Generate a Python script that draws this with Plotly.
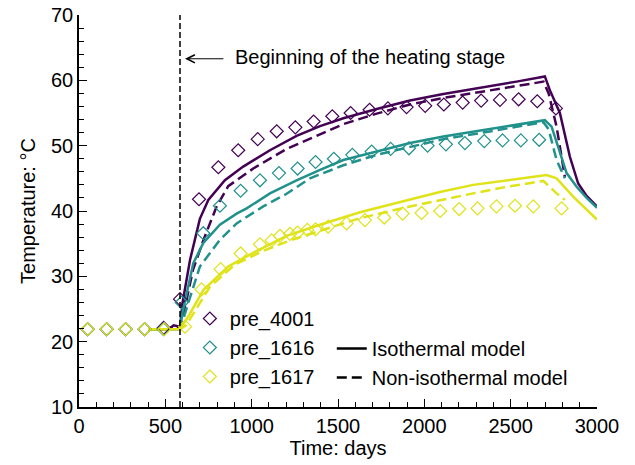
import plotly.graph_objects as go

# ---------------- data ----------------
series_names = ["pre_4001", "pre_1616", "pre_1617"]
colors = ["#440154", "#21918c", "#dfe318"]

# measured values (open diamonds)
obs_4001_x = [50, 160, 270, 380, 490, 585, 695, 807, 922, 1035, 1145, 1253, 1359, 1467, 1573, 1683,
              1789, 1897, 2005, 2113, 2222, 2329, 2438, 2546, 2654, 2762]
obs_4001_y = [21.9, 21.9, 21.9, 21.9, 22.1, 26.5, 41.8, 46.7, 49.3, 51.0, 52.2, 52.8, 53.7, 54.5, 55.0, 55.5,
              55.7, 55.9, 56.1, 56.3, 56.6, 56.9, 57.0, 57.1, 56.8, 55.7]

obs_1616_x = [50, 160, 270, 380, 490, 595, 720, 816, 936, 1048, 1158, 1266, 1370, 1476, 1583, 1695,
              1805, 1911, 2019, 2125, 2235, 2347, 2453, 2559, 2665]
obs_1616_y = [21.9, 21.9, 21.9, 21.9, 21.9, 26.0, 36.6, 40.8, 43.1, 44.7, 45.8, 46.5, 47.5, 48.0, 48.6, 49.1,
              49.5, 49.6, 50.0, 50.2, 50.4, 50.7, 50.8, 50.8, 50.9]

obs_1617_x = [50, 160, 270, 380, 494, 614, 710, 820, 936, 1048, 1116, 1164, 1222, 1266, 1322, 1370, 1443,
              1550, 1656, 1768, 1874, 1984, 2092, 2202, 2308, 2418, 2525, 2631, 2795]
obs_1617_y = [21.9, 21.9, 21.9, 21.9, 21.9, 22.3, 28.0, 31.1, 33.5, 34.9, 35.5, 36.2, 36.5, 36.7, 37.1, 37.2, 37.6,
              38.1, 38.6, 39.0, 39.6, 39.7, 40.0, 40.3, 40.4, 40.7, 40.8, 40.7, 40.4]

# isothermal model (solid lines)
iso_4001_x = [400, 520, 548, 585, 600, 643, 700, 749, 845, 951, 1106, 1260, 1396, 1531, 1724, 1917, 2110,
              2341, 2534, 2698, 2727, 2785, 2843, 2891, 2940, 3000]
iso_4001_y = [21.9, 21.9, 22.5, 22.3, 26.0, 32.5, 38.8, 41.7, 44.7, 46.8, 49.3, 51.5, 53.0, 54.2, 55.6, 56.9, 57.9,
              58.9, 59.8, 60.6, 58.5, 55.0, 48.3, 44.2, 42.3, 40.7]

iso_1616_x = [400, 585, 600, 662, 720, 816, 913, 971, 1106, 1260, 1396, 1531, 1724, 1917, 2110, 2341, 2534,
              2698, 2737, 2785, 2824, 2882, 2940, 3000]
iso_1616_y = [21.9, 21.9, 24.5, 32.0, 35.1, 37.9, 39.6, 40.4, 42.7, 44.7, 46.3, 47.8, 49.1, 50.4, 51.4, 52.4, 53.2,
              53.9, 52.9, 48.8, 45.8, 43.7, 42.0, 40.5]

iso_1617_x = [400, 585, 643, 720, 864, 1009, 1202, 1396, 1627, 1917, 2090, 2283, 2476, 2708, 2766, 2862, 3000]
iso_1617_y = [21.9, 21.9, 24.3, 27.9, 31.5, 33.6, 36.2, 37.9, 39.8, 41.8, 42.9, 44.0, 44.7, 45.5, 45.0, 42.2, 38.7]

# non-isothermal model (dashed lines)
non_4001_x = [400, 520, 548, 585, 620, 660, 720, 797, 864, 1009, 1202, 1396, 1531, 1724, 1917, 2110, 2341,
              2534, 2690, 2720, 2766, 2814]
non_4001_y = [21.9, 21.9, 22.4, 22.2, 26.0, 31.0, 35.5, 40.7, 43.8, 46.5, 49.5, 51.8, 53.3, 54.9, 56.3, 57.3, 58.3,
              59.1, 59.8, 58.0, 52.9, 45.2]

non_1616_x = [400, 585, 610, 700, 816, 913, 1067, 1200, 1338, 1531, 1724, 1917, 2110, 2341, 2534, 2690, 2720,
              2766, 2814]
non_1616_y = [21.9, 21.9, 24.0, 31.5, 35.6, 38.1, 40.7, 42.6, 45.0, 47.0, 48.6, 49.8, 51.0, 52.0, 52.9, 53.6, 52.5,
              47.8, 45.0]

non_1617_x = [400, 585, 620, 680, 758, 903, 1058, 1232, 1396, 1627, 1917, 2090, 2283, 2476, 2689, 2766, 2814]
non_1617_y = [21.9, 21.9, 22.5, 25.0, 28.4, 31.8, 33.8, 35.6, 37.0, 38.9, 40.7, 41.7, 42.7, 43.7, 44.6, 42.7, 41.7]

heating_start = 585
annotation_text = "Beginning of the heating stage"
model_names = ["Isothermal model", "Non-isothermal model"]

x_range = [0, 3000]
y_range = [10, 70]

# ---------------- figure ----------------
FONT = "Liberation Sans, Arial, sans-serif"
FS = 20
fig = go.Figure()

obs = [(obs_4001_x, obs_4001_y), (obs_1616_x, obs_1616_y), (obs_1617_x, obs_1617_y)]
iso = [(iso_4001_x, iso_4001_y), (iso_1616_x, iso_1616_y), (iso_1617_x, iso_1617_y)]
non = [(non_4001_x, non_4001_y), (non_1616_x, non_1616_y), (non_1617_x, non_1617_y)]

for i in range(3):
    fig.add_trace(go.Scatter(x=iso[i][0], y=iso[i][1], mode="lines",
                             line=dict(color=colors[i], width=2.5), showlegend=False,
                             hoverinfo="skip"))
    fig.add_trace(go.Scatter(x=non[i][0], y=non[i][1], mode="lines",
                             line=dict(color=colors[i], width=2.5, dash="10px,5px"),
                             showlegend=False, hoverinfo="skip"))

for i in range(3):
    fig.add_trace(go.Scatter(x=obs[i][0], y=obs[i][1], mode="markers", name=series_names[i],
                             marker=dict(symbol="diamond-open", size=10, color=colors[i],
                                         line=dict(width=1.2, color=colors[i])),
                             legend="legend"))

fig.add_trace(go.Scatter(x=[None], y=[None], mode="lines", name=model_names[0],
                         line=dict(color="black", width=2.5), legend="legend2"))
fig.add_trace(go.Scatter(x=[None], y=[None], mode="lines", name=model_names[1],
                         line=dict(color="black", width=2.5, dash="10px,5px"), legend="legend2"))

fig.add_shape(type="line", x0=heating_start, x1=heating_start, y0=0, y1=1,
              xref="x", yref="paper", line=dict(color="black", width=1.5, dash="6px,3px"))

fig.add_annotation(x=614, y=63.3, ax=845, ay=63.3, axref="x", ayref="y", xref="x", yref="y",
                   text="", showarrow=True, arrowhead=5, arrowsize=1.6, arrowwidth=1, arrowcolor="black")
fig.add_annotation(x=893, y=63.6, xref="x", yref="y", text=annotation_text, showarrow=False,
                   xanchor="left", yanchor="middle", font=dict(size=FS, color="black", family=FONT))

axis_common = dict(showline=True, linecolor="black", linewidth=1.5, ticks="inside",
                   tickcolor="black", tickwidth=1.2, ticklen=8, showgrid=False, zeroline=False,
                   tickfont=dict(size=FS, color="black", family=FONT), mirror=False,
                   automargin=False)

fig.update_xaxes(range=x_range, dtick=500, tick0=0,
                 title=dict(text="Time: days", font=dict(size=FS, color="black", family=FONT), standoff=2),
                 minor=dict(dtick=100, ticks="inside", ticklen=5, tickcolor="black", tickwidth=1),
                 **axis_common)
fig.update_yaxes(range=y_range, dtick=10, tick0=10,
                 title=dict(text="Temperature: °C", font=dict(size=FS, color="black", family=FONT), standoff=10),
                 minor=dict(dtick=2, ticks="inside", ticklen=5, tickcolor="black", tickwidth=1),
                 **axis_common)

fig.update_layout(
    width=635, height=465,
    margin=dict(l=79, r=38, t=15, b=58),
    plot_bgcolor="white", paper_bgcolor="white",
    font=dict(family=FONT, color="black"),
    legend=dict(x=0.214, y=0.2755, xanchor="left", yanchor="top", bgcolor="rgba(0,0,0,0)",
                font=dict(size=FS, family=FONT, color="black"), itemwidth=30, tracegroupgap=0),
    legend2=dict(x=0.488, y=0.199, xanchor="left", yanchor="top", bgcolor="rgba(0,0,0,0)",
                 font=dict(size=FS, family=FONT, color="black"), itemwidth=30),
)

fig.write_html("out.html")
